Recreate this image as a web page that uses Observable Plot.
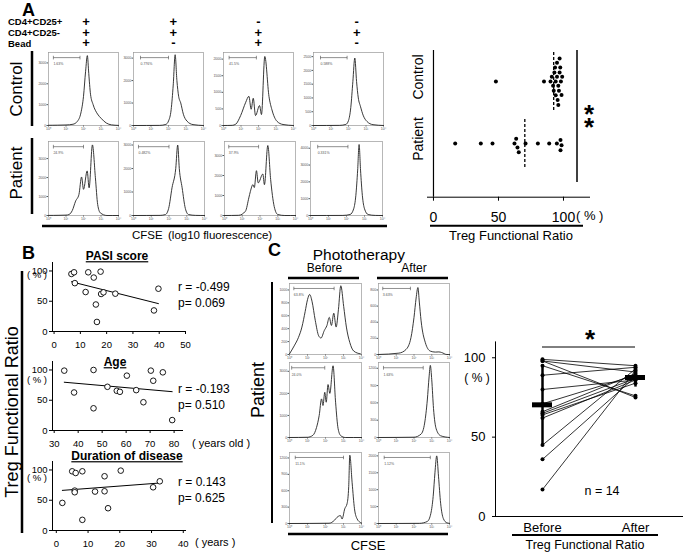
<!DOCTYPE html>
<html><head><meta charset="utf-8">
<script src="https://cdn.jsdelivr.net/npm/d3@7"></script>
<script src="https://cdn.jsdelivr.net/npm/@observablehq/plot@0.6"></script>
<style>
html,body{margin:0;padding:0;background:#fff;}
#fig{position:relative;width:686px;height:555px;overflow:hidden;font-family:"Liberation Sans",Arial,sans-serif;}
</style></head>
<body><div id="fig"></div>
<script>
// ---------- DATA ----------
// Panel A: condition table (CD4+CD25+, CD4+CD25-, Bead) for the 4 columns
const condRows = ["CD4+CD25+", "CD4+CD25-", "Bead"];
const condSigns = [["+","+","+"],["+","+","-"],["-","+","+"],["-","+","-"]];
// CFSE histograms: [log10 fluorescence, count]
const histA1 = [[0,10],[0.5,15],[1,25],[1.4,60],[1.65,200],[1.85,600],[2.0,1400],[2.12,2600],[2.22,3350],[2.3,2500],[2.4,1500],[2.55,1000],[2.8,550],[3.0,350],[3.3,120],[3.6,30],[4,5]];
const histA2 = [[0,0],[1.5,5],[1.85,50],[2.0,200],[2.15,700],[2.27,1800],[2.38,3150],[2.48,2000],[2.58,1300],[2.7,1000],[2.85,500],[3.05,200],[3.4,40],[4,0]];
const histA3 = [[0,0],[0.5,5],[0.7,40],[0.98,300],[1.27,700],[1.45,880],[1.58,490],[1.7,820],[1.83,300],[2.06,600],[2.17,330],[2.36,2080],[2.6,870],[2.77,470],[3.05,130],[3.4,30],[4,0]];
const histA4 = [[0,0],[1.5,5],[1.85,40],[2.0,180],[2.13,650],[2.25,1600],[2.36,2450],[2.46,1600],[2.56,1000],[2.68,700],[2.85,350],[3.05,150],[3.4,30],[4,0]];
const histA5 = [[0,5],[0.6,10],[1.0,20],[1.17,50],[1.36,265],[1.55,760],[1.74,1110],[1.89,2030],[2.0,1380],[2.21,2350],[2.32,1460],[2.51,3720],[2.68,1990],[2.81,580],[2.96,140],[3.34,0],[4,0]];
const histA6 = [[0,0],[1.5,5],[1.8,40],[1.98,300],[2.17,1180],[2.38,2000],[2.49,3000],[2.58,2000],[2.74,1180],[2.92,300],[3.1,40],[3.5,5],[4,0]];
const histA7 = [[0,0],[0.8,10],[1.18,215],[1.37,880],[1.46,1210],[1.6,1540],[1.68,1400],[1.8,2240],[1.9,1630],[2.16,2075],[2.25,1540],[2.44,3500],[2.6,1800],[2.8,450],[3.0,50],[3.4,0],[4,0]];
const histA8 = [[0,0],[1.8,5],[2.2,60],[2.4,400],[2.52,1200],[2.62,2700],[2.7,4220],[2.78,2700],[2.88,1200],[3.0,400],[3.2,60],[3.6,5],[4,0]];
const histC1 = [[0,10],[0.26,133],[0.5,266],[0.69,425],[0.87,665],[1.0,850],[1.12,930],[1.25,825],[1.43,530],[1.62,290],[1.75,255],[1.93,370],[2.08,450],[2.21,575],[2.33,450],[2.46,640],[2.59,425],[2.72,700],[2.85,1065],[3.01,745],[3.16,425],[3.35,186],[3.57,53],[3.94,10]];
const histC2 = [[0,0],[1.15,17],[1.55,62],[1.83,210],[2.0,460],[2.12,700],[2.22,830],[2.3,650],[2.4,417],[2.64,146],[2.92,42],[3.2,30],[3.4,32],[3.55,25],[3.85,0],[4,0]];
const histC3 = [[0,0],[1.0,10],[1.3,100],[1.5,450],[1.65,1000],[1.78,1750],[1.86,1450],[1.96,2050],[2.04,1600],[2.14,2400],[2.24,2000],[2.42,3250],[2.56,1600],[2.7,400],[2.85,80],[3.1,0],[4,0]];
const histC4 = [[0,0],[2.0,5],[2.4,60],[2.6,250],[2.75,650],[2.85,1050],[2.92,1250],[3.0,1000],[3.1,500],[3.25,150],[3.5,30],[4,0]];
const histC5 = [[0,0],[2.2,5],[2.5,60],[2.64,113],[2.83,145],[2.92,82],[3.07,270],[3.2,365],[3.29,680],[3.35,1250],[3.48,745],[3.61,270],[3.76,82],[3.94,19],[4,10]];
const histC6 = [[0,0],[2.3,5],[2.75,60],[2.95,300],[3.08,800],[3.18,1500],[3.28,2000],[3.38,1400],[3.5,600],[3.65,150],[3.85,20],[4,5]];
const gatePctA = ["1.63%","0.776%","41.5%","0.588%","24.9%","0.482%","37.9%","0.331%"];
const gatePctC = ["63.8%","3.63%","24.0%","1.63%","11.1%","1.12%"];
// Panel A right: Treg functional ratio (%)
const controlRatio = [48,85,90,91,92,92.5,93,93.5,94,94,95,95,95.5,96,96,96.5,97,97,97.5,98,98.5,99];
const patientRatio = [16.7,36.4,45.4,62.3,63.6,64.6,65.6,70.8,80.3,89,94.9,97.7,98.5,97.7];
// Panel B
const pasiScore = [6.6,7.6,7.9,12,13,15.1,17.7,15.9,16.3,17.9,18.8,23.3,39.7,38];
const pasiRatio = [95.1,97.8,79.9,65.2,97.8,89.1,98.9,44.6,15.8,62,64.7,62.5,70.7,34.8];
const ageYears = [34.2,38.3,46.4,46.4,52.2,56.1,57.4,60.3,64.2,67.2,70.3,71.3,75.3,79.2];
const ageRatio = [98.9,62.8,100,36.7,72.2,65.6,63.9,90.6,66.7,46.7,98.9,82.2,96.1,17.2];
const durationYears = [1.9,5,6.1,5.8,5.8,8.2,8.2,12.2,15.2,15.2,16.3,20.3,30.5,32.6];
const durationRatio = [45.6,97.8,95,65.9,63.2,97.8,17.6,64.3,89.6,64.8,36.8,98.9,71.4,81.3];
const statsB = [["r = -0.499","p= 0.069"],["r = -0.193","p= 0.510"],["r = 0.143","p= 0.625"]];
// Panel C right
const phases = ["Before","After"];
const photoBefore = [17,36,45,62,64,65,66,71,80,89,95,98,98,99];
const photoAfter  = [92,88,93,86,84,87,90,89,86,94,76,75,91,95];

// ---------- HELPERS ----------
const FONT = '"Liberation Sans", Arial, sans-serif';
const fig = document.getElementById("fig");
function put(el, left, top) {
  el.style.position = "absolute"; el.style.left = left + "px"; el.style.top = top + "px";
  el.style.maxWidth = "none";
  fig.appendChild(el);
}
const SUP = ["\u2070","\u00B9","\u00B2","\u00B3","\u2074"];
function histo(pts, ymax, yticks, gate, pct, box) {
  const [x0, y0, x1, y1] = box;
  const ml = 14, mr = 2, mt = 1, mb = 7;
  const rows = pts.map(([lx, c]) => ({cfse: 10 ** lx, count: c}));
  const gy = ymax * 0.93, gh = ymax * 0.025;
  const [ga, gb] = gate.map(v => 10 ** v);
  const segs = [{x1: ga, x2: gb, y1: gy, y2: gy}, {x1: ga, x2: ga, y1: gy - gh, y2: gy + gh}, {x1: gb, x2: gb, y1: gy - gh, y2: gy + gh}];
  const p = Plot.plot({
    width: x1 - x0 + ml + mr, height: y1 - y0 + mt + mb,
    marginLeft: ml, marginRight: mr, marginTop: mt, marginBottom: mb,
    style: {background: "transparent", fontSize: "3.5px", fontFamily: FONT, color: "#555", overflow: "visible"},
    x: {type: "log", domain: [1, 1e4], ticks: [1, 10, 100, 1000, 10000], tickFormat: d => "10" + SUP[Math.round(Math.log10(d))], tickSize: 1.5, tickPadding: 0.8, label: null},
    y: {domain: [0, ymax], ticks: yticks, tickFormat: "d", tickSize: 1.5, tickPadding: 0.8, label: null},
    marks: [
      Plot.frame({stroke: "#999", strokeWidth: 0.7}),
      Plot.link(segs, {x1: "x1", x2: "x2", y1: "y1", y2: "y2", stroke: "#444", strokeWidth: 0.6}),
      Plot.text([{x: ga, y: ymax * 0.84, t: pct}], {x: "x", y: "y", text: "t", textAnchor: "start", fontSize: 3.5, fill: "#555"}),
      Plot.line(rows, {x: "cfse", y: "count", curve: "monotone-x", stroke: "#222", strokeWidth: 0.9})
    ]
  });
  put(p, x0 - ml, y0 - mt);
}

// ---------- PANEL A histograms ----------
const aCtrlBoxes = [[48,52,118,125],[133,52,203,125],[223,52,293,125],[313,52,383,125]];
const aPatBoxes = [[48,141,118,215],[133,141,204,215],[224,141,295,215],[310,141,382,215]];
histo(histA1, 3500, [0,1000,2000,3000], [0.28,1.8], gatePctA[0], aCtrlBoxes[0]);
histo(histA2, 3250, [0,1000,2000,3000], [0.4,2.0], gatePctA[1], aCtrlBoxes[1]);
histo(histA3, 2200, [0,500,1000,1500,2000], [0.32,1.88], gatePctA[2], aCtrlBoxes[2]);
histo(histA4, 2650, [0,500,1000,1500,2000,2500], [0.4,1.92], gatePctA[3], aCtrlBoxes[3]);
histo(histA5, 3900, [0,1000,2000,3000], [0.28,2.0], gatePctA[4], aPatBoxes[0]);
histo(histA6, 3150, [0,1000,2000,3000], [0.28,2.0], gatePctA[5], aPatBoxes[1]);
histo(histA7, 3700, [0,1000,2000,3000], [0.24,1.92], gatePctA[6], aPatBoxes[2]);
histo(histA8, 4400, [0,1000,2000,3000,4000], [0.4,2.08], gatePctA[7], aPatBoxes[3]);
// ---------- PANEL C histograms ----------
histo(histC1, 1100, [0,200,400,600,800,1000], [0.24,2.48], gatePctC[0], [289,283,361,354]);
histo(histC2, 880, [0,200,400,600,800], [0.24,1.8], gatePctC[1], [378,283,449,354]);
histo(histC3, 3400, [0,1000,2000,3000], [0.12,1.96], gatePctC[2], [289,362,361,437]);
histo(histC4, 1300, [0,300,600,900,1200], [0.28,2.52], gatePctC[3], [378,362,449,437]);
histo(histC5, 1300, [0,300,600,900,1200], [0.32,3.0], gatePctC[4], [289,452,361,523]);
histo(histC6, 2100, [0,500,1000,1500,2000], [0.32,2.92], gatePctC[5], [378,452,449,523]);

// ---------- PANEL A right: dot plot ----------
const axA = Plot.plot({
  width: 209, height: 192, marginLeft: 27, marginRight: 20, marginTop: 10, marginBottom: 35.3,
  style: {background: "transparent", fontSize: "14px", fontFamily: FONT, color: "#000", overflow: "visible"},
  x: {domain: [-4.6, 120], ticks: [0, 50, 100], tickSize: 4, tickPadding: 11, line: true, label: null},
  y: {domain: [0, 1], axis: null},
  marks: [Plot.ruleX([0], {strokeWidth: 1.2})]
});
put(axA, 400, 40);
function swarm(vals, top, h) {
  const p = Plot.plot({
    width: 209, height: h, marginLeft: 27, marginRight: 20, marginTop: 0, marginBottom: 0,
    style: {background: "transparent", overflow: "visible"},
    x: {domain: [-4.6, 120], axis: null},
    marks: [
      Plot.ruleX([d3.mean(vals)], {strokeDasharray: "3,2", strokeWidth: 1.3}),
      Plot.dot(vals, Plot.dodgeY("middle", {x: d => d, r: 2, fill: "#000", padding: 0.6}))
    ]
  });
  put(p, 400, top);
}
swarm(controlRatio, 52, 58);
swarm(patientRatio, 119, 48);

// ---------- PANEL B: scatter plots ----------
function scatter(xs, ys, xdomain, xticks, box) {
  const [fx0, fy0, fx1, fy1] = box;
  const rows = xs.map((x, i) => ({x, y: ys[i]}));
  const mr = 10, mt = 6, mb = 22;
  const p = Plot.plot({
    width: fx1 + mr, height: fy1 - fy0 + mt + mb,
    marginLeft: fx0, marginRight: mr, marginTop: mt, marginBottom: mb,
    style: {background: "transparent", fontSize: "9.5px", fontFamily: FONT, color: "#000", overflow: "visible"},
    x: {domain: xdomain, ticks: xticks, tickSize: 3, tickPadding: 7, line: true, label: null},
    y: {domain: [0, 114], ticks: [0, 50, 100], tickSize: 3, tickPadding: 2, line: true, label: null},
    marks: [
      Plot.linearRegressionY(rows, {x: "x", y: "y", ci: 0, stroke: "#000", strokeWidth: 1}),
      Plot.dot(rows, {x: "x", y: "y", r: 2.8, stroke: "#000", fill: "#fff", strokeWidth: 0.9})
    ]
  });
  put(p, 0, fy0 - mt);
}
scatter(pasiScore, pasiRatio, [-0.6, 50], [0,10,20,30,40,50], [52, 262, 185, 331]);
scatter(ageYears, ageRatio, [29.3, 83.5], [30,40,50,60,70,80], [52, 360.5, 182, 429.5]);
scatter(durationYears, durationRatio, [-1.2, 40.7], [0,10,20,30,40], [52, 461, 185, 530]);

// ---------- PANEL C right: paired plot ----------
const pairRows = photoBefore.flatMap((b, i) => [{id: i, phase: "Before", v: b}, {id: i, phase: "After", v: photoAfter[i]}]);
const pairStats = phases.map(ph => {
  const vs = pairRows.filter(d => d.phase === ph).map(d => d.v);
  const m = d3.mean(vs), s = d3.deviation(vs);
  return {phase: ph, mean: m, lo: m - s, hi: m + s};
});
const cPlot = Plot.plot({
  width: 236, height: 221, marginLeft: 45, marginRight: 4, marginTop: 21.4, marginBottom: 25,
  style: {background: "transparent", fontSize: "13px", fontFamily: FONT, color: "#000", overflow: "visible"},
  x: {type: "band", domain: phases, paddingInner: 0.786, paddingOuter: 0.39, tickSize: 0, tickPadding: 6, line: true, label: null},
  y: {domain: [0, 110], ticks: [0, 50, 100], tickSize: 3, tickPadding: 7, line: true, label: null},
  marks: [
    Plot.line(pairRows, {x: "phase", y: "v", z: "id", stroke: "#000", strokeWidth: 0.8}),
    Plot.dot(pairRows, {x: "phase", y: "v", r: 2, fill: "#000"}),
    Plot.ruleX(pairStats, {x: "phase", y1: "lo", y2: "hi", strokeWidth: 2.5}),
    Plot.tickY(pairStats, {x: "phase", y: "mean", strokeWidth: 5})
  ]
});
put(cPlot, 450, 320);

// ---------- ANNOTATION OVERLAY ----------
const ov = d3.create("svg").attr("width", 686).attr("height", 555)
  .style("position", "absolute").style("left", "0px").style("top", "0px")
  .style("font-family", FONT).style("pointer-events", "none");
function T(str, x, y, o = {}) {
  const {size = 12, weight = "normal", anchor = "start", rotate = 0, deco = null, baseline = "middle"} = o;
  const t = ov.append("text").attr("transform", `translate(${x},${y}) rotate(${rotate})`)
    .attr("text-anchor", anchor).attr("dominant-baseline", baseline)
    .attr("font-size", size).attr("font-weight", weight).attr("fill", "#000").text(str);
  if (deco) t.style("text-decoration", deco);
  return t;
}
function L(x1, y1, x2, y2, w = 1) {
  ov.append("line").attr("x1", x1).attr("y1", y1).attr("x2", x2).attr("y2", y2)
    .attr("stroke", "#000").attr("stroke-width", w);
}
// Panel A
T("A", 22, 16, {size: 18, weight: "bold", baseline: "alphabetic"});
const rowY = [22.7, 33.3, 44];
const signX = [86, 173.3, 258.3, 356.7];
condRows.forEach((r, i) => T(r, 8, rowY[i], {size: 9.5, weight: "bold"}));
condSigns.forEach((col, c) => col.forEach((s, i) => T(s, signX[c], rowY[i], {size: 13, weight: "bold", anchor: "middle"})));
T("Control", 18, 89, {size: 17, rotate: -90, anchor: "middle"});
T("Patient", 18, 173, {size: 17, rotate: -90, anchor: "middle"});
L(32, 51, 32, 126, 2.5); L(32, 138, 32, 214, 2.5);
L(42, 226, 387, 226, 2.5);
T("CFSE", 132, 236, {size: 11.5});
T("(log10 fluorescence)", 168, 236, {size: 11.5});
// Panel A right
T("Control", 419, 77, {size: 14, rotate: -90, anchor: "middle"});
T("Patient", 419, 139, {size: 14, rotate: -90, anchor: "middle"});
L(577, 50, 577, 182, 1.5);
T("*", 589, 116, {size: 26, weight: "bold", anchor: "middle"});
T("*", 589, 129, {size: 26, weight: "bold", anchor: "middle"});
T("( % )", 576, 217, {size: 13});
L(430, 225.7, 583, 225.7, 2);
T("Treg Functional Ratio", 511, 236.5, {size: 13, anchor: "middle"});
// Panel B
T("B", 22, 259, {size: 18, weight: "bold", baseline: "alphabetic"});
T("PASI score", 117, 257, {size: 12, weight: "bold", anchor: "middle", deco: "underline"});
T("Age", 115, 363, {size: 12, weight: "bold", anchor: "middle", deco: "underline"});
T("Duration of disease", 127, 457, {size: 12, weight: "bold", anchor: "middle", deco: "underline"});
const statY = [[288, 304], [390, 406], [483, 499]];
statsB.forEach((s, i) => { T(s[0], 178, statY[i][0], {size: 12}); T(s[1], 178, statY[i][1], {size: 12}); });
[275, 380, 478].forEach(y => T("( % )", 47, y, {size: 9.5, anchor: "end"}));
T("( years old )", 192, 444, {size: 11});
T("( years )", 195, 543, {size: 11});
T("Treg Functional Ratio", 13, 412, {size: 18, rotate: -90, anchor: "middle"});
L(22, 271, 22, 533, 2.5);
// Panel C
T("C", 268, 256, {size: 18, weight: "bold", baseline: "alphabetic"});
T("Phototherapy", 312.7, 260, {size: 15.5, baseline: "alphabetic"});
T("Before", 324.5, 272, {size: 12, anchor: "middle", baseline: "alphabetic"});
T("After", 414, 272, {size: 12, anchor: "middle", baseline: "alphabetic"});
L(288, 278, 359, 278, 2.5); L(377, 278, 448, 278, 2.5);
T("Patient", 259, 390, {size: 18, rotate: -90, anchor: "middle"});
L(272, 282, 272, 523, 2);
L(288, 534, 448, 534, 2.5);
T("CFSE", 368, 547, {size: 13, anchor: "middle"});
// Panel C right
T("( % )", 477, 379, {size: 12, anchor: "middle"});
L(542, 347, 635, 347, 1);
T("*", 590, 341, {size: 26, weight: "bold", anchor: "middle"});
T("n = 14", 602, 492, {size: 12.5, anchor: "middle"});
L(512, 535, 658, 535, 2);
T("Treg Functional Ratio", 585, 546, {size: 12.5, anchor: "middle"});
fig.appendChild(ov.node());
</script>
</body></html>
